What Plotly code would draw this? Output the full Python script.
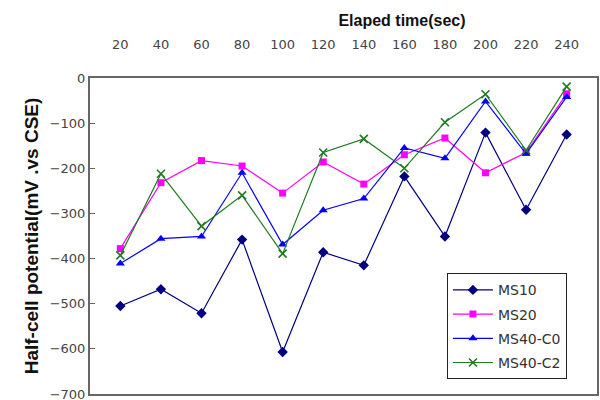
import plotly.graph_objects as go

time_labels = ["20", "40", "60", "80", "100", "120", "140", "160", "180", "200", "220", "240"]
ms10 = [-505, -468, -521, -358, -607, -386, -415, -218, -351, -121, -292, -125]
ms20 = [-378, -232, -183, -195, -255, -186, -235, -170, -133, -210, -165, -35]
ms40_c0 = [-411, -356, -351, -210, -369, -293, -267, -155, -178, -52, -168, -42]
ms40_c2 = [-393, -212, -328, -260, -389, -165, -135, -200, -98, -36, -160, -19]

series = [
    ("MS10", ms10, "#000080", dict(symbol="diamond", size=8)),
    ("MS20", ms20, "#FF00FF", dict(symbol="square", size=7)),
    ("MS40-C0", ms40_c0, "#0000FF", dict(symbol="triangle-up", size=8)),
    ("MS40-C2", ms40_c2, "#1E7B1E", dict(symbol="x-thin-open", size=8)),
]

fig = go.Figure()
for name, vals, color, mk in series:
    marker = dict(color=color, **mk)
    if mk["symbol"].startswith("x-thin"):
        marker["line"] = dict(color=color, width=1.6)
    fig.add_trace(go.Scatter(
        x=time_labels, y=vals, name=name, mode="lines+markers", legendgroup=name,
        line=dict(color=color, width=1.2), marker=marker,
    ))

fig.update_layout(
    width=600, height=400,
    margin=dict(l=90, r=3, t=78, b=6, autoexpand=False),
    paper_bgcolor="white", plot_bgcolor="white",
    font=dict(family="DejaVu Sans", size=13, color="#333"),
    title=dict(text="<b>Elaped time(sec)</b>", x=0.67, xanchor="center", y=0.95, yanchor="middle",
               font=dict(family="Liberation Sans", size=16, color="#111")),
    showlegend=True,
    legend=dict(x=0.704, y=0.382, xanchor="left", yanchor="top",
                bordercolor="#222", borderwidth=1, bgcolor="white",
                font=dict(family="DejaVu Sans", size=14, color="#333"),
                tracegroupgap=3, itemwidth=40),
)
fig.update_xaxes(type="category", side="top", showgrid=False, automargin=False,
                 showline=True, linecolor="#666", linewidth=2, mirror=True,
                 ticks="", ticklabelstandoff=22, tickfont=dict(size=13, color="#444"))
fig.update_yaxes(range=[-700, 0], dtick=100, showgrid=False, zeroline=False, automargin=False,
                 showline=True, linecolor="#666", linewidth=2, mirror=True,
                 ticks="inside", ticklen=5, tickcolor="#666", ticklabeloverflow="allow",
                 tickfont=dict(size=13, color="#444"),
                 title=dict(text="<b>Half-cell potential(mV .vs CSE)</b>", standoff=6,
                            font=dict(family="Liberation Sans", size=19, color="#111")))

fig.write_html("out.html")
